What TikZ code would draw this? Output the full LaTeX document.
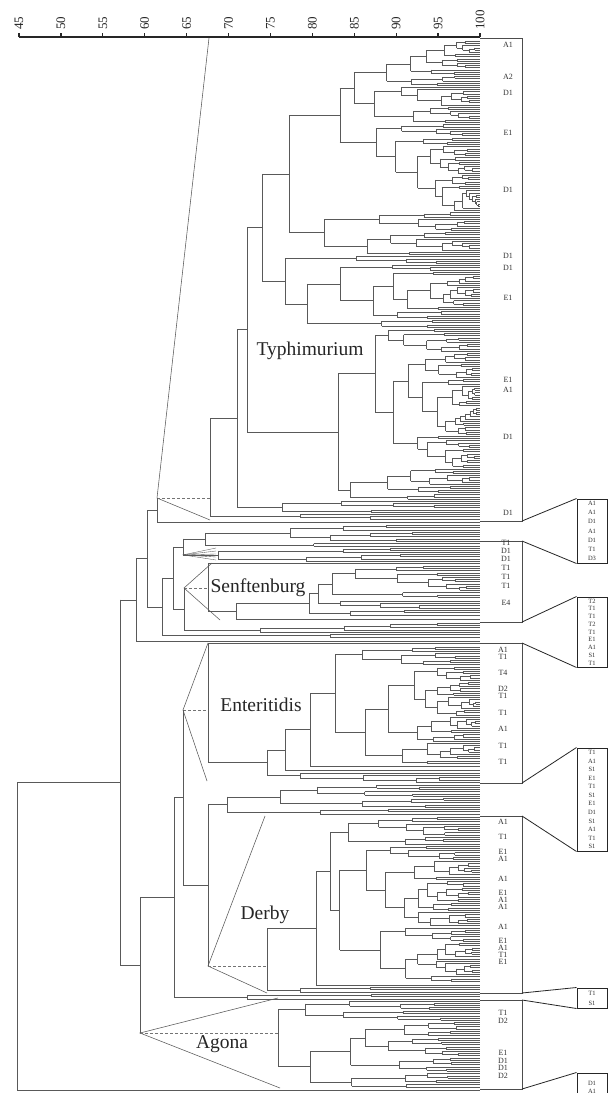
\documentclass[tikz,border=0pt]{standalone}
\usepackage{fontspec}
\setmainfont{Liberation Serif}
\tikzset{
 tree/.style={line width=0.35pt, draw=black!65},
 trdash/.style={line width=0.4pt, draw=black!55, densely dashed},
 tri/.style={line width=0.55pt, draw=black!65},
 blk/.style={line width=0.5pt, draw=black!70},
 conn/.style={line width=0.8pt, draw=black!85},
 axisln/.style={line width=1.2pt, draw=black!85},
 sbox/.style={draw=black!85, line width=1pt, minimum width=30pt, inner sep=0pt},
 lab/.style={font=\fontsize{8}{9}\selectfont, text=black!80, inner sep=0pt},
 stxt/.style={font=\fontsize{6.5}{7}\selectfont, text=black!80, inner sep=0pt},
 big/.style={font=\fontsize{19.5}{22}\selectfont, text=black!85, inner sep=0pt},
 axlab/.style={font=\fontsize{13}{14}\selectfont, rotate=90, anchor=west, inner sep=0pt, text=black!85},
}
\newcommand\LeafEnd{480}
\newcommand\LeafSp{2.2}
\gdef\dres{0}
\newcommand\dnodeat[4]{%
 \begingroup
 \pgfmathtruncatemacro\dN{round((#2-(#1))/\LeafSp)}%
 \ifnum\dN<2\relax
   \pgfmathsetmacro\dY{(#1+#2)/2}%
   \draw[tree] (#4,\dY) -- (\LeafEnd,\dY);%
   \xdef\dres{\dY}%
 \else
   \pgfmathtruncatemacro\dLo{max(1,round(0.12*\dN))}%
   \pgfmathtruncatemacro\dHi{min(\dN-1,round(0.88*\dN))}%
   \pgfmathrandominteger{\dK}{\dLo}{\dHi}%
   \pgfmathsetmacro\dS{#1+\dK*((#2-(#1))/\dN)}%
   \pgfmathsetmacro\dXn{#3}%
   \edef\dnext{\noexpand\dnode{#1}{\dS}{\dXn}}\dnext
   \let\dYA\dres
   \edef\dnext{\noexpand\dnode{\dS}{#2}{\dXn}}\dnext
   \let\dYB\dres
   \pgfmathsetmacro\dY{(\dYA+\dYB)/2}%
   \draw[tree] (\dXn,\dYA) -- (\dXn,\dYB);%
   \draw[tree] (#4,\dY) -- (\dXn,\dY);%
   \xdef\dres{\dY}%
 \fi
 \endgroup}
\newcommand\dnode[3]{%
 \begingroup
 \pgfmathtruncatemacro\dN{round((#2-(#1))/\LeafSp)}%
 \ifnum\dN<2\relax
   \pgfmathsetmacro\dY{(#1+#2)/2}%
   \draw[tree] (#3,\dY) -- (\LeafEnd,\dY);%
   \xdef\dres{\dY}%
 \else
   \pgfmathsetmacro\dXn{#3+(\LeafEnd-#3)*(0.04+0.22*rnd+1.1/(\dN+2))}%
   \edef\dnext{\noexpand\dnodeat{#1}{#2}{\dXn}{#3}}\dnext
 \fi
 \endgroup}
\begin{document}
\begin{tikzpicture}[x=1pt,y=-1pt]
\fill[white] (0,0) rectangle (614,1093);
\useasboundingbox (0,0) rectangle (614,1093);
\pgfmathsetseed{42}

% ---------- axis ----------
\draw[axisln] (19,37) -- (480,37);
\foreach \v in {45,50,...,100}{
  \pgfmathsetmacro\ax{19+(\v-45)*8.3818}
  \draw[axisln] (\ax,37) -- (\ax,33);
  \node[axlab] (ax\v) at (\ax,30) {\v};
}

% ---------- Typhimurium ----------
\dnodeat{40}{328}{262}{247}\let\tC\dres
\dnodeat{328}{468}{375}{338}\let\tCa\dres
\dnodeat{468}{500}{350}{338}\let\tCb\dres
\draw[tree] (338,\tCa) -- (338,\tCb);
\pgfmathsetmacro\tN{(\tCa+\tCb)/2}
\draw[tree] (247,\tN) -- (338,\tN);
\draw[tree] (247,\tC) -- (247,\tN);
\pgfmathsetmacro\tM{(\tC+\tN)/2}
\dnodeat{500}{513}{282}{237}\let\tD\dres
\draw[tree] (237,\tM) -- (247,\tM);
\draw[tree] (237,\tM) -- (237,\tD);
\pgfmathsetmacro\tR{(\tM+\tD)/2}
\dnodeat{513}{520}{300}{210}\let\tE\dres
\draw[tree] (210,\tR) -- (237,\tR);
\draw[tree] (210,\tR) -- (210,\tE);
\draw[tri] (209,38) -- (157,498) -- (210,520);
\draw[trdash] (157,498) -- (210,498);
\draw[tree] (157,498) -- (157,522);
\draw[tree] (157,522) -- (\LeafEnd,522);

% ---------- small groups and Senftenburg ----------
\dnodeat{524}{547}{205}{183}\let\sA\dres
\dnodeat{547}{562}{218}{183}\let\sB\dres
\draw[tree] (183,\sA) -- (183,\sB);
\foreach \yy in {548,551,554,557,560}{\draw[tree] (183,\sB) -- (216,\yy);}
\pgfmathsetmacro\sM{(\sA+\sB)/2}

\dnodeat{565}{598}{332}{318}\let\uA\dres
\dnodeat{600}{609}{340}{318}\let\uB\dres
\draw[tree] (318,\uA) -- (318,\uB);
\pgfmathsetmacro\uM{(\uA+\uB)/2}
\draw[tree] (309,\uM) -- (318,\uM);
\dnodeat{609}{616}{350}{309}\let\uC\dres
\draw[tree] (309,\uM) -- (309,\uC);
\pgfmathsetmacro\uN{(\uM+\uC)/2}
\draw[tree] (236,\uN) -- (309,\uN);
\draw[tree] (236,619) -- (\LeafEnd,619);
\draw[tree] (236,\uN) -- (236,619);
\pgfmathsetmacro\uP{(\uN+619)/2}
\draw[tree] (208,563) -- (\LeafEnd,563);
\draw[tree] (208,\uP) -- (236,\uP);
\draw[tree] (208,563) -- (208,\uP);
\draw[tri] (212,563) -- (184,588) -- (220,620);
\draw[trdash] (184,588) -- (208,588);

\dnodeat{622}{633}{260}{184}\let\vA\dres
\draw[tree] (184,588) -- (184,\vA);
\pgfmathsetmacro\vM{(588+\vA)/2}
\draw[tree] (173,\sM) -- (183,\sM);
\draw[tree] (173,\vM) -- (184,\vM);
\draw[tree] (173,\sM) -- (173,\vM);
\pgfmathsetmacro\wM{(\sM+\vM)/2}
\dnodeat{633}{638}{330}{162}\let\vB\dres
\draw[tree] (162,\wM) -- (173,\wM);
\draw[tree] (162,\wM) -- (162,\vB);
\pgfmathsetmacro\xM{(\wM+\vB)/2}
\draw[tree] (147,510) -- (157,510);
\draw[tree] (147,\xM) -- (162,\xM);
\draw[tree] (147,510) -- (147,\xM);
\pgfmathsetmacro\yM{(510+\xM)/2}
\draw[tree] (136,641) -- (\LeafEnd,641);
\draw[tree] (136,\yM) -- (147,\yM);
\draw[tree] (136,\yM) -- (136,641);
\pgfmathsetmacro\zM{(\yM+641)/2}

% ---------- Enteritidis ----------
\dnodeat{646}{764}{335}{310}\let\eA\dres
\draw[tree] (310,766) -- (\LeafEnd,766);
\draw[tree] (310,\eA) -- (310,766);
\pgfmathsetmacro\eM{(\eA+766)/2}
\draw[tree] (285,\eM) -- (310,\eM);
\draw[tree] (285,770) -- (\LeafEnd,770);
\draw[tree] (285,\eM) -- (285,770);
\pgfmathsetmacro\eN{(\eM+770)/2}
\draw[tree] (267,\eN) -- (285,\eN);
\dnodeat{772}{783}{300}{267}\let\eB\dres
\draw[tree] (267,\eN) -- (267,\eB);
\pgfmathsetmacro\eP{(\eN+\eB)/2}
\draw[tree] (208,643) -- (\LeafEnd,643);
\draw[tree] (208,\eP) -- (267,\eP);
\draw[tree] (208,643) -- (208,\eP);
\draw[tri] (208,643) -- (183,710) -- (207,781);
\draw[trdash] (183,710) -- (208,710);

% ---------- between Enteritidis and Derby ----------
\dnodeat{784}{808}{280}{227}\let\fA\dres
\dnodeat{808}{815}{320}{227}\let\fB\dres
\draw[tree] (227,\fA) -- (227,\fB);
\pgfmathsetmacro\fM{(\fA+\fB)/2}
\draw[tree] (208,\fM) -- (227,\fM);
\draw[tree] (208,\fM) -- (208,966);
\pgfmathsetmacro\gM{(\fM+966)/2}

% ---------- Derby ----------
\dnodeat{816}{982}{330}{316}\let\hA\dres
\draw[tree] (316,985) -- (\LeafEnd,985);
\draw[tree] (316,\hA) -- (316,985);
\pgfmathsetmacro\hM{(\hA+985)/2}
\dnodeat{986}{993}{300}{267}\let\hB\dres
\draw[tree] (267,\hM) -- (316,\hM);
\draw[tree] (267,\hM) -- (267,\hB);
\draw[tri] (265,816) -- (208,966) -- (267,993);
\draw[trdash] (208,966) -- (267,966);

\draw[tree] (183,710) -- (183,\gM);
\draw[tree] (183,\gM) -- (208,\gM);
\pgfmathsetmacro\iM{(710+\gM)/2}
\dnodeat{993}{1000}{247}{174}\let\jA\dres
\draw[tree] (174,\iM) -- (183,\iM);
\draw[tree] (174,\iM) -- (174,\jA);
\pgfmathsetmacro\jM{(\iM+\jA)/2}

% ---------- Agona ----------
\dnodeat{1000}{1021}{305}{278}\let\kA\dres
\dnodeat{1021}{1088}{310}{278}\let\kB\dres
\draw[tree] (278,\kA) -- (278,\kB);
\draw[tri] (278,998) -- (140,1033) -- (280,1088);
\draw[trdash] (140,1033) -- (278,1033);

\draw[tree] (140,\jM) -- (140,1033);
\draw[tree] (140,\jM) -- (174,\jM);
\pgfmathsetmacro\lM{(\jM+1033)/2}
\draw[tree] (120,\zM) -- (120,\lM);
\draw[tree] (120,\zM) -- (136,\zM);
\draw[tree] (120,\lM) -- (140,\lM);
\pgfmathsetmacro\mM{(\zM+\lM)/2}
\draw[tree] (17,\mM) -- (17,1090);
\draw[tree] (17,\mM) -- (120,\mM);
\draw[tree] (17,1090) -- (\LeafEnd,1090);

% ---------- group names ----------
\node[big] (typh) at (310,351) {Typhimurium};
\node[big] (senf) at (258,588) {Senftenburg};
\node[big] (ente) at (261,705) {Enteritidis};
\node[big] (derb) at (265,915) {Derby};
\node[big] (agon) at (222,1044) {Agona};

% ---------- block outlines ----------
\draw[blk] (\LeafEnd,38) -- (522,38) -- (522,521) -- (\LeafEnd,521);
\draw[blk] (\LeafEnd,541) -- (522,541) -- (522,622) -- (\LeafEnd,622);
\draw[blk] (\LeafEnd,643) -- (522,643) -- (522,783) -- (\LeafEnd,783);
\draw[blk] (\LeafEnd,816) -- (522,816) -- (522,993) -- (\LeafEnd,993);
\draw[blk] (\LeafEnd,1000) -- (522,1000) -- (522,1089) -- (\LeafEnd,1089);

% ---------- leaf labels ----------
\foreach \yy/\lbl [count=\i] in {45/A1,77/A2,93/D1,133/E1,190/D1,256/D1,268/D1,298/E1,380/E1,390/A1,437/D1,513/D1}
  \node[lab] (ty\i) at (508,\yy) {\lbl};
\foreach \yy/\lbl [count=\i] in {543/T1,551/D1,559/D1,568/T1,577/T1,586/T1,603/E4}
  \node[lab] (se\i) at (506,\yy) {\lbl};
\foreach \yy/\lbl [count=\i] in {650/A1,657/T1,673/T4,689/D2,696/T1,713/T1,729/A1,746/T1,762/T1}
  \node[lab] (en\i) at (503,\yy) {\lbl};
\foreach \yy/\lbl [count=\i] in {822/A1,837/T1,852/E1,859/A1,879/A1,893/E1,900/A1,907/A1,927/A1,941/E1,948/A1,955/T1,962/E1}
  \node[lab] (de\i) at (503,\yy) {\lbl};
\foreach \yy/\lbl [count=\i] in {1013/T1,1021/D2,1053/E1,1061/D1,1068/D1,1076/D2}
  \node[lab] (ag\i) at (503,\yy) {\lbl};

% ---------- zoom boxes ----------
\node[sbox, minimum height=64pt] (b1) at (592,531) {};
\node[sbox, minimum height=70pt] (b2) at (592,632) {};
\node[sbox, minimum height=103pt] (b3) at (592,799.5) {};
\node[sbox, minimum height=20pt] (b4) at (592,998) {};
\node[sbox, minimum height=40pt] (b5) at (592,1093) {};
\foreach \lbl [count=\i] in {A1,A1,D1,A1,D1,T1,D3}
  \node[stxt] (b1e\i) at (592,{499+9.14*(\i-0.5)}) {\lbl};
\foreach \lbl [count=\i] in {T2,T1,T1,T2,T1,E1,A1,S1,T1}
  \node[stxt] (b2e\i) at (592,{597+7.78*(\i-0.5)}) {\lbl};
\foreach \lbl [count=\i] in {T1,A1,S1,E1,T1,S1,E1,D1,S1,A1,T1,S1}
  \node[stxt] (b3e\i) at (592,{748+8.58*(\i-0.5)}) {\lbl};
\foreach \lbl [count=\i] in {T1,S1}
  \node[stxt] (b4e\i) at (592,{988+10*(\i-0.5)}) {\lbl};
\foreach \lbl [count=\i] in {D1,A1}
  \node[stxt] (b5e\i) at (592,{1079+8*(\i-0.5)}) {\lbl};

\coordinate (c1a) at (522,521); \coordinate (c1b) at (522,541);
\coordinate (c2a) at (522,622); \coordinate (c2b) at (522,643);
\coordinate (c3a) at (522,783); \coordinate (c3b) at (522,816);
\coordinate (c4a) at (522,993); \coordinate (c4b) at (522,1000);
\coordinate (c5a) at (522,1089);
\draw[conn] (c1a) -- (b1.north west);
\draw[conn] (c1b) -- (b1.south west);
\draw[conn] (c2a) -- (b2.north west);
\draw[conn] (c2b) -- (b2.south west);
\draw[conn] (c3a) -- (b3.north west);
\draw[conn] (c3b) -- (b3.south west);
\draw[conn] (c4a) -- (b4.north west);
\draw[conn] (c4b) -- (b4.south west);
\draw[conn] (c5a) -- (b5.north west);
\end{tikzpicture}
\end{document}
